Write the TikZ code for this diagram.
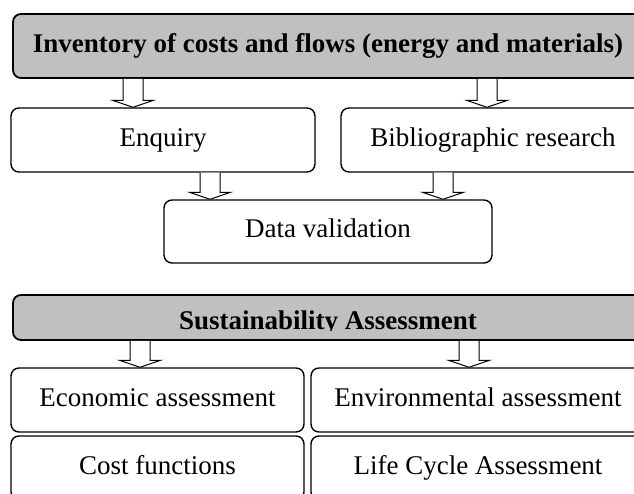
\documentclass[tikz,border=0pt]{standalone}
\usepackage{fontspec}
\setmainfont{Liberation Serif}
\usepackage{tikz}
\definecolor{boxgray}{HTML}{C0C0C0}

\begin{document}
\begin{tikzpicture}[x=1pt, y=-1pt,
	font=\fontsize{27}{32}\selectfont,
	stage/.style={draw, line width=1.4pt, rounded corners=8pt, inner sep=0pt, fill=white, text height=18pt, text depth=5pt},
	header/.style={stage, line width=1.8pt, fill=boxgray, font=\fontsize{27}{32}\selectfont\bfseries},
	hollow/.style={draw, line width=1pt, fill=white, to path={
		([xshift=-10pt]\tikztostart) -- ([xshift=-10pt,yshift=7pt]\tikztotarget)
		-- ([xshift=-20.5pt,yshift=7pt]\tikztotarget) -- (\tikztotarget)
		-- ([xshift=20.5pt,yshift=7pt]\tikztotarget) -- ([xshift=10pt,yshift=7pt]\tikztotarget)
		-- ([xshift=10pt]\tikztostart)}}]
	\clip (0,0) rectangle (634,494);
	\fill[white] (0,0) rectangle (634,494);

	% inventory part
	\node[header, minimum width=630pt, minimum height=64pt] (inv) at (328,46) {Inventory of costs and flows (energy and materials)};
	\node[stage, minimum width=304pt, minimum height=64pt] (enq) at (163,140) {Enquiry};
	\node[stage, minimum width=304pt, minimum height=64pt] (bib) at (493,140) {Bibliographic research};
	\node[stage, minimum width=328pt, minimum height=63pt] (val) at (328,231.5) {Data validation};

	\draw[hollow] (133,0 |- inv.south) to (133,0 |- enq.north);
	\draw[hollow] (487,0 |- inv.south) to (487,0 |- bib.north);
	\draw[hollow] (210,0 |- enq.south) to (210,0 |- val.north);
	\draw[hollow] (443,0 |- bib.south) to (443,0 |- val.north);

	% assessment part
	\node[header, minimum width=630pt, minimum height=45pt] (sus) at (328,317.5) {};
	\begin{scope}
		\clip (0,0) rectangle (634,330);
		\node[font=\fontsize{27}{32}\selectfont\bfseries, anchor=base, inner sep=0pt] (sustext) at (328,329) {Sustainability Assessment};
	\end{scope}
	\node[stage, minimum width=293pt, minimum height=64pt] (eco) at (157.5,400) {Economic assessment};
	\node[stage, minimum width=334pt, minimum height=64pt] (env) at (478,400) {Environmental assessment};
	\node[stage, minimum width=293pt, minimum height=64pt] (cost) at (157.5,468) {Cost functions};
	\node[stage, minimum width=334pt, minimum height=64pt] (lca) at (478,468) {Life Cycle Assessment};

	\draw[hollow] (140,0 |- sus.south) to (140,0 |- eco.north);
	\draw[hollow] (469,0 |- sus.south) to (469,0 |- env.north);

\end{tikzpicture}
\end{document}
